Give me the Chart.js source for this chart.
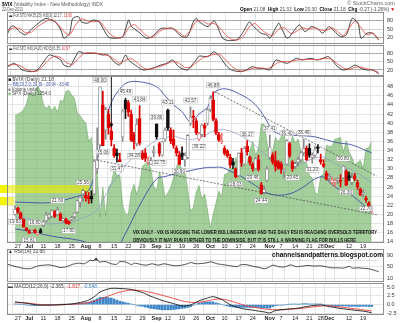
<!DOCTYPE html>
<html>
<head>
<meta charset="utf-8">
<title>$VIX daily</title>
<script src="https://cdn.jsdelivr.net/npm/chart.js@4.4.1/dist/chart.umd.min.js"></script>
<style>
  html, body { margin: 0; padding: 0; background: #fff; }
  #wrap { position: relative; width: 400px; height: 323px; overflow: hidden; background: #fff; }
  #wrap canvas { position: absolute; left: 0; }
</style>
</head>
<body>
<div id="wrap">
  <canvas id="sto1" width="400" height="44" style="top:0px"></canvas>
  <canvas id="sto2" width="400" height="32" style="top:44px"></canvas>
  <canvas id="main" width="400" height="173" style="top:76px"></canvas>
  <canvas id="rsi" width="400" height="33" style="top:249px"></canvas>
  <canvas id="macd" width="400" height="41" style="top:282px"></canvas>
</div>
<script>
const FONT = '"Liberation Sans", Arial, sans-serif';
Chart.defaults.font.family = FONT;

// trading days: index 0 = 24 Jun 2011 ... index 126 = 22 Dec 2011
const tickIdx  = [1, 5, 10, 15, 20, 25, 30, 35, 40, 45, 50, 54, 59, 64, 69, 74, 79, 84, 90, 94, 99, 104, 108, 111, 118, 123];
const tickText = ['27', 'Jul', '11', '18', '25', 'Aug', '8', '15', '22', '29', 'Sep', '12', '19', '26', 'Oct', '10', '17', '24', 'Nov', '7', '14', '21', '28', 'Dec', '12', '19'];
const months = ['Jul', 'Aug', 'Sep', 'Oct', 'Nov', 'Dec'];

const vixOpen = [
  20.00, 21.30, 20.30, 18.90, 17.00, 16.40, 16.20, 16.50, 15.60, 16.60,
  17.60, 18.60, 19.40, 19.60, 20.60, 20.00, 20.10, 18.60, 18.90, 18.40,
  18.90, 19.50, 20.50, 22.60, 24.50, 24.20, 23.90, 24.00, 24.50, 30.00,
  35.20, 44.00, 38.50, 42.00, 38.20, 34.50, 33.50, 32.00, 37.00, 45.00,
  44.50, 42.00, 37.50, 35.50, 41.00, 33.50, 33.50, 31.50, 31.00, 33.50,
  39.80, 35.50, 33.00, 36.50, 42.90, 38.50, 36.50, 34.50, 33.00, 33.50,
  32.00, 32.50, 40.00, 41.50, 40.50, 36.50, 37.50, 39.50, 40.00, 43.00,
  45.00, 40.50, 37.50, 36.00, 34.50, 33.80, 32.50, 31.50, 30.00, 28.50,
  33.50, 31.00, 35.00, 32.50, 31.00, 30.00, 32.00, 26.50, 24.80, 27.50,
  32.50, 33.00, 31.80, 31.50, 31.00, 29.50, 31.00, 35.50, 31.50, 30.50,
  31.50, 32.00, 33.50, 34.50, 34.50, 32.50, 33.00, 34.80, 32.00, 31.00,
  29.00, 28.00, 27.00, 27.00, 27.50, 27.50, 28.00, 29.50, 28.50, 27.00,
  28.50, 27.00, 25.50, 24.50, 23.50, 22.50, 21.08];
const vixHigh = [
  21.90, 21.60, 20.50, 19.00, 17.10, 16.60, 16.60, 16.80, 16.00, 16.90,
  18.60, 20.50, 20.20, 21.00, 20.90, 21.60, 20.30, 19.20, 19.20, 18.60,
  19.60, 20.30, 23.10, 24.00, 25.56, 25.00, 24.80, 25.20, 32.00, 39.00,
  48.00, 47.00, 43.50, 43.00, 40.20, 35.30, 34.30, 33.40, 43.00, 45.48,
  45.00, 42.80, 38.00, 41.00, 43.84, 34.00, 34.40, 32.60, 32.50, 35.00,
  39.86, 35.80, 36.00, 39.00, 43.11, 39.00, 38.50, 35.00, 33.80, 34.80,
  33.50, 37.50, 43.57, 42.80, 41.00, 38.00, 39.80, 40.00, 43.20, 46.00,
  46.88, 41.00, 38.00, 37.80, 35.00, 34.20, 33.20, 32.30, 30.20, 33.50,
  34.50, 34.80, 36.17, 32.80, 31.30, 32.50, 33.00, 27.00, 26.20, 30.50,
  37.41, 33.50, 33.80, 31.80, 31.50, 30.00, 36.40, 35.80, 31.80, 31.50,
  32.50, 33.80, 36.46, 35.00, 35.50, 33.50, 35.00, 35.30, 33.20, 32.00,
  29.50, 29.00, 28.20, 27.80, 28.00, 28.70, 30.80, 29.80, 29.30, 29.00,
  29.00, 27.50, 25.80, 25.40, 24.00, 22.80, 21.33];
const vixLow = [
  19.83, 20.20, 18.80, 17.20, 16.40, 15.81, 15.90, 15.80, 15.50, 15.90,
  17.30, 18.30, 18.90, 19.20, 19.30, 19.80, 18.60, 18.30, 17.90, 17.80,
  18.50, 19.00, 20.30, 21.60, 22.90, 22.90, 22.40, 22.50, 24.20, 29.00,
  34.80, 35.06, 36.50, 37.60, 35.00, 32.50, 31.47, 31.55, 36.00, 41.00,
  41.50, 36.00, 34.28, 35.00, 35.20, 32.00, 31.60, 30.89, 30.90, 32.60,
  36.50, 32.75, 32.80, 36.00, 38.40, 35.50, 34.50, 32.80, 30.90, 32.00,
  30.50, 32.20, 39.50, 39.00, 37.50, 36.22, 37.00, 37.00, 39.50, 42.50,
  40.50, 37.50, 36.00, 35.50, 33.00, 32.50, 30.30, 30.00, 28.03, 28.30,
  30.50, 30.80, 33.00, 30.80, 29.46, 29.80, 29.50, 24.44, 24.50, 27.20,
  32.00, 31.00, 29.50, 29.90, 29.00, 28.00, 30.80, 32.50, 29.45, 30.00,
  30.50, 31.50, 32.80, 31.80, 32.50, 31.20, 32.50, 33.50, 31.00, 30.30,
  27.50, 27.30, 26.50, 26.00, 26.70, 26.00, 27.80, 26.30, 27.40, 26.50,
  27.40, 25.50, 24.10, 23.80, 22.70, 21.30, 20.30];
const vixClose = [
  21.10, 20.56, 18.86, 17.27, 16.52, 15.87, 16.34, 16.06, 15.95, 15.95,
  18.39, 19.87, 19.91, 20.80, 19.53, 20.95, 18.65, 19.07, 18.10, 17.95,
  19.33, 20.23, 22.98, 23.74, 25.25, 23.66, 23.38, 23.38, 31.66, 32.00,
  48.00, 35.06, 42.99, 39.00, 36.36, 32.85, 32.89, 31.58, 42.67, 43.05,
  42.44, 36.27, 35.90, 39.76, 35.59, 32.28, 32.27, 31.62, 31.82, 33.92,
  37.00, 33.38, 35.91, 38.52, 38.90, 36.11, 35.15, 33.53, 30.98, 32.73,
  32.91, 37.32, 41.35, 41.25, 37.90, 37.71, 39.61, 38.84, 42.96, 45.45,
  40.82, 37.81, 36.27, 36.20, 33.39, 32.86, 30.81, 30.82, 28.24, 33.39,
  31.26, 34.51, 33.72, 31.32, 29.96, 32.22, 29.86, 24.53, 25.46, 29.96,
  34.77, 31.50, 30.50, 30.16, 29.85, 29.89, 36.16, 32.81, 30.04, 31.13,
  32.08, 33.51, 34.51, 32.00, 32.91, 33.00, 34.15, 34.47, 31.51, 30.52,
  27.80, 28.37, 27.52, 27.41, 27.84, 27.22, 30.59, 26.38, 27.90, 28.00,
  27.70, 26.00, 24.29, 24.71, 23.22, 21.45, 21.18];

// S&P 500 closes, drawn as the shaded overlay behind the candles
const spxClose = [
  1300, 1303, 1306, 1310, 1321, 1340, 1337, 1339, 1353, 1344,
  1320, 1313, 1318, 1309, 1317, 1306, 1327, 1326, 1344, 1345,
  1337, 1331, 1305, 1300, 1292, 1287, 1254, 1261, 1200, 1199,
  1119, 1172, 1121, 1172, 1179, 1204, 1193, 1193, 1140, 1124,
  1123, 1162, 1177, 1159, 1177, 1210, 1213, 1219, 1204, 1174,
  1166, 1198, 1185, 1154, 1162, 1172, 1189, 1209, 1216, 1204,
  1202, 1167, 1129, 1136, 1163, 1175, 1151, 1160, 1131, 1099,
  1124, 1144, 1165, 1155, 1195, 1196, 1208, 1204, 1225, 1200,
  1225, 1210, 1215, 1238, 1254, 1229, 1242, 1285, 1285, 1253,
  1219, 1237, 1261, 1253, 1262, 1276, 1229, 1240, 1264, 1251,
  1258, 1237, 1216, 1216, 1193, 1188, 1162, 1159, 1192, 1196,
  1247, 1245, 1245, 1258, 1259, 1261, 1234, 1255, 1236, 1225,
  1212, 1216, 1220, 1206, 1241, 1243, 1254];

// Bollinger bands (20, 2.0)
const bbIdx   = [0, 5, 10, 15, 20, 25, 27, 29, 31, 34, 37, 40, 45, 50, 53, 56, 59, 62, 65, 68, 70, 73, 76, 79, 82, 85, 88, 91, 94, 97, 100, 103, 106, 109, 112, 115, 118, 121, 124, 126];
const bbUpper = [22.7, 22.6, 22.5, 22.8, 23.6, 24.7, 26.5, 31.5, 38.5, 44.5, 47.5, 49.0, 49.0, 48.0, 46.0, 44.0, 42.5, 40.3, 42.0, 43.5, 46.5, 47.5, 47.3, 46.5, 45.5, 44.0, 41.5, 38.5, 37.5, 37.4, 37.3, 37.2, 37.0, 36.5, 36.0, 35.6, 35.4, 34.8, 34.0, 33.49];
const bbMid   = [19.5, 19.0, 18.0, 18.0, 18.3, 19.5, 20.0, 21.0, 23.0, 26.5, 29.0, 31.5, 34.0, 36.3, 36.8, 37.2, 36.6, 36.4, 36.8, 37.6, 38.3, 38.6, 38.3, 37.5, 36.5, 35.0, 33.3, 32.2, 31.3, 30.8, 31.0, 31.6, 32.4, 32.5, 31.5, 30.5, 30.0, 29.0, 27.8, 26.94];
const bbLower = [16.8, 16.3, 15.6, 15.0, 14.6, 13.9, 13.0, 11.5, 9.0, 7.5, 13.2, 17.0, 23.1, 27.8, 28.3, 28.8, 29.2, 29.6, 30.0, 30.3, 30.3, 30.3, 29.5, 28.7, 27.5, 26.3, 25.0, 24.3, 24.2, 24.5, 25.3, 26.5, 27.8, 28.2, 26.5, 25.3, 24.6, 23.2, 21.6, 20.36];

// Full stochastics, [day, value]
const sto1K = [[0,36],[1,59],[2,61],[4,41],[6,30],[8,50],[11,76],[13,88],[16,76],[18,47],[19,18],[21,36],[22,88],[24,94],[25,76],[27,71],[29,82],[31,76],[34,24],[36,18],[39,24],[41,82],[42,59],[45,36],[47,18],[49,24],[52,53],[54,53],[56,53],[59,24],[61,24],[63,76],[64,88],[65,76],[68,59],[70,80],[71,65],[73,18],[75,10],[78,14],[80,41],[82,76],[83,65],[86,36],[88,30],[89,18],[92,71],[93,53],[95,18],[99,65],[101,41],[103,59],[105,53],[107,36],[109,59],[110,53],[113,24],[115,30],[117,88],[119,71],[120,18],[122,36],[124,36],[126,12.17]];
const sto1D = [[0,45],[2,55],[4,52],[6,38],[8,40],[10,58],[13,78],[15,84],[17,68],[19,42],[21,30],[23,65],[25,86],[27,80],[29,76],[31,78],[33,55],[35,30],[37,20],[39,22],[41,55],[43,66],[45,48],[47,28],[49,20],[51,38],[53,50],[56,53],[58,40],[60,26],[62,45],[64,78],[66,80],[68,68],[70,70],[72,55],[74,30],[76,14],[78,12],[80,25],[82,58],[84,70],[86,50],[88,35],[90,28],[92,50],[94,55],[96,35],[98,42],[100,55],[102,50],[104,55],[106,48],[108,45],[110,55],[112,42],[114,28],[116,55],[118,78],[120,55],[122,30],[124,36],[126,13.06]];
const sto2K = [[0,32],[2,44],[3,38],[5,20],[8,14],[10,20],[13,62],[14,74],[16,68],[18,56],[19,38],[21,32],[23,68],[24,86],[26,80],[28,80],[30,80],[32,74],[34,74],[36,50],[38,38],[40,74],[41,56],[44,32],[46,20],[49,26],[52,38],[54,44],[56,56],[58,32],[61,20],[63,44],[64,56],[65,70],[68,68],[70,86],[72,68],[74,38],[76,20],[79,14],[81,20],[83,32],[85,26],[87,26],[89,20],[91,56],[93,50],[95,44],[98,62],[100,56],[103,62],[105,56],[107,62],[109,68],[112,32],[114,20],[116,26],[118,38],[120,26],[122,20],[124,20],[126,6.35]];
const sto2D = [[0,36],[2,40],[4,36],[6,24],[8,16],[10,16],[12,35],[14,58],[16,70],[18,64],[20,46],[22,40],[24,62],[26,80],[28,82],[30,80],[32,77],[34,72],[36,60],[38,44],[40,55],[42,60],[44,45],[46,28],[48,22],[50,28],[52,34],[54,42],[56,50],[58,45],[60,30],[62,30],[64,46],[66,62],[68,70],[70,76],[72,76],[74,56],[76,34],[78,20],[80,16],[82,22],[84,28],[86,27],[88,24],[90,34],[92,48],[94,50],[96,50],[98,55],[100,58],[102,58],[104,58],[106,58],[108,62],[110,58],[112,42],[114,28],[116,22],[118,30],[120,30],[122,24],[124,20],[126,10.97]];

// RSI(14), [day, value]
const rsi14 = [[0,58],[2,52],[4,47],[6,43],[8,44],[10,52],[12,55],[14,56],[16,52],[18,47],[20,50],[22,58],[24,62],[26,60],[28,72],[29,70],[30,79],[31,66],[33,68],[35,60],[37,58],[38,67],[40,66],[42,57],[43,62],[45,58],[47,55],[49,60],[51,55],[53,60],[55,56],[57,53],[59,55],[61,60],[62,64],[64,60],[66,61],[68,64],[69,67],[71,60],[73,57],[75,54],[78,50],[79,56],[81,57],[83,52],[85,48],[87,43],[88,45],[90,55],[92,50],[94,49],[96,56],[98,50],[100,52],[102,54],[104,52],[106,53],[108,50],[110,46],[112,46],[114,45],[116,51],[117,45],[119,46],[121,44],[123,42],[125,36],[126,32.66]];

// MACD(12,26,9)
const macdLine   = [[0,0.8],[4,0.4],[8,-0.1],[14,-0.1],[20,0.2],[24,0.8],[26,1.3],[28,2.3],[30,3.6],[32,4.3],[34,4.7],[36,4.7],[38,4.6],[40,4.5],[42,4.2],[45,3.5],[48,2.4],[52,1.2],[56,0.3],[59,-0.4],[62,-0.1],[65,1.1],[68,1.9],[70,2.3],[73,1.5],[76,0.0],[80,-1.1],[84,-1.6],[88,-2.1],[90,-2.4],[92,-1.7],[96,-1.3],[100,-1.0],[104,-0.4],[108,-0.1],[110,-0.4],[115,-1.1],[120,-1.6],[124,-2.0],[126,-2.365]];
const macdSignal = [[0,0.6],[4,0.5],[8,0.1],[14,-0.1],[20,0.1],[24,0.3],[26,0.6],[28,1.0],[30,1.5],[32,2.2],[34,2.8],[36,3.4],[38,3.8],[40,4.1],[42,4.2],[45,4.0],[48,3.5],[52,2.7],[56,1.8],[60,0.9],[64,0.6],[68,1.1],[71,1.6],[74,1.5],[78,0.6],[82,-0.4],[86,-1.0],[90,-1.4],[94,-1.5],[98,-1.3],[102,-1.0],[106,-0.6],[110,-0.3],[114,-0.6],[118,-1.0],[122,-1.4],[126,-1.817]];
const macdHist = [
  0.2, 0.15, 0.1, 0.0, -0.1, -0.2, -0.25, -0.3, -0.25, -0.2,
  -0.15, -0.1, -0.05, 0.0, 0.0, 0.0, 0.05, 0.05, 0.05, 0.05,
  0.1, 0.2, 0.3, 0.4, 0.5, 0.6, 0.7, 1.0, 1.3, 1.7,
  2.1, 2.1, 2.1, 2.0, 1.9, 1.6, 1.3, 1.0, 0.8, 0.6,
  0.4, 0.2, 0.0, -0.2, -0.4, -0.5, -0.7, -0.9, -1.1, -1.2,
  -1.3, -1.4, -1.5, -1.5, -1.5, -1.5, -1.4, -1.3, -1.2, -1.1,
  -1.0, -0.8, -0.6, -0.2, 0.2, 0.4, 0.6, 0.7, 0.8, 0.8,
  0.8, 0.5, 0.3, 0.0, -0.2, -0.4, -0.6, -0.7, -0.8, -0.8,
  -0.8, -0.8, -0.8, -0.8, -0.8, -0.8, -0.8, -0.9, -0.9, -1.0,
  -1.0, -0.6, -0.3, -0.2, -0.1, -0.1, 0.0, 0.1, 0.2, 0.2,
  0.1, 0.2, 0.3, 0.3, 0.2, 0.2, 0.2, 0.2, 0.2, 0.0,
  -0.1, -0.2, -0.3, -0.4, -0.4, -0.4, -0.4, -0.4, -0.5, -0.5,
  -0.5, -0.5, -0.5, -0.5, -0.5, -0.55, -0.548];

// swing highs / lows that get a value tag
const hiTags = [7, 15, 24, 30, 39, 44, 50, 54, 62, 70, 82, 90, 96, 102, 116];
const loTags = [0, 5, 19, 31, 36, 42, 51, 58, 65, 78, 84, 87, 98, 105, 117, 124];

// hand-drawn trend lines [day0, value0, day1, value1], arrow [day, from, to]
const trendLines = [[70.6, 46.9, 127.8, 28.4], [28.9, 31.9, 127.8, 19.9]];
const arrowMark = [34, 50.3, 39.2];
// highlighted price zones [low, high, last day]
const zones = [[24.69, 26.44, 26.2], [22.0, 23.8, -0.3]];

const noteLines = [
  'VIX DAILY - VIX IS HUGGING THE LOWER BOLLINGER BAND AND THE DAILY RSI IS REACHING OVERSOLD TERRITORY',
  'OBVIOUSLY IT MAY RUN FURTHER TO THE DOWNSIDE, BUT IT IS STILL A WARNING FLAG FOR BULLS HERE'
];

// ---------- helpers ----------
const fnt = (w, s) => (w || 'normal') + ' ' + s + 'px ' + FONT;
const pts = pairs => pairs.map(p => ({x: p[0], y: p[1]}));
const daily = arr => arr.map((v, i) => ({x: i, y: v}));

function textRuns(ctx, parts, x, y, width, size, scale) {
  ctx.save();
  let total = 0;
  const w = parts.map(p => { ctx.font = fnt(p[2], size); const m = ctx.measureText(p[0]).width; total += m; return m; });
  const k = scale || (width ? width / total : 1);
  ctx.translate(x, y);
  ctx.scale(k, 1);
  ctx.textBaseline = 'middle';
  ctx.textAlign = 'left';
  let cx = 0;
  parts.forEach((p, i) => { ctx.font = fnt(p[2], size); ctx.fillStyle = p[1]; ctx.fillText(p[0], cx, 0); cx += w[i]; });
  ctx.restore();
  return k;
}

function xAxis(labels, h) {
  return {
    type: 'linear', min: -0.3, max: 127.8,
    afterBuildTicks: s => { s.ticks = tickIdx.map(v => ({value: v})); },
    afterFit: s => { s.height = h; s.paddingLeft = 0; s.paddingRight = 0; },
    border: {display: false},
    grid: {color: '#e4e4e4', lineWidth: 1, drawTicks: false},
    ticks: {
      display: labels, autoSkip: false, maxRotation: 0, minRotation: 0, padding: 0, color: '#222',
      font: c => ({size: 5.5, weight: months.includes(tickText[tickIdx.indexOf(c.tick ? c.tick.value : -1)]) ? 'bold' : 'normal'}),
      callback: v => tickText[tickIdx.indexOf(v)] || ''
    }
  };
}

function yAxis(min, max, ticks, opt) {
  opt = opt || {};
  return {
    type: 'linear', position: 'right', min, max,
    afterBuildTicks: s => { s.ticks = ticks.map(v => ({value: v})); },
    afterFit: s => { s.width = 16; s.paddingTop = 0; s.paddingBottom = 0; },
    border: {display: false},
    grid: {color: opt.grid || '#e4e4e4', lineWidth: 1, drawTicks: false},
    ticks: {padding: 3, color: '#333', font: {size: 5.5}, callback: opt.fmt || (v => v)}
  };
}

const frame = {
  id: 'frame',
  afterDraw(c) {
    const a = c.chartArea, ctx = c.ctx;
    ctx.save();
    ctx.strokeStyle = '#8e8e8e';
    ctx.lineWidth = 1;
    ctx.strokeRect(a.left + 0.5, a.top + 0.5, a.right - a.left - 1, a.bottom - a.top - 1);
    ctx.restore();
  }
};

const base = {
  responsive: false, animation: false, devicePixelRatio: 1, events: [],
  plugins: {legend: {display: false}, tooltip: {enabled: false}},
  elements: {point: {radius: 0}}
};
const opts = (pad, scales) => Object.assign({}, base, {layout: {padding: pad}, scales});
const lineSet = (data, color, width) => ({type: 'line', data, borderColor: color, borderWidth: width || 0.8, pointRadius: 0, fill: false, tension: 0.25});

// ---------- stochastics ----------
const stoGrid = c => c.tick.value === 50 ? '#cfcfcf' : '#a9a9a9';

new Chart(document.getElementById('sto1'), {
  type: 'line',
  data: {datasets: [lineSet(pts(sto1D), '#e8413c'), lineSet(pts(sto1K), '#1a1a1a')]},
  options: opts({left: 7, right: 0, top: 12, bottom: 0},
    {x: xAxis(false, 0), y: yAxis(-2.1, 110.6, [20, 50, 80], {grid: stoGrid})}),
  plugins: [frame, {
    id: 'head',
    afterDraw(c) {
      const ctx = c.ctx;
      textRuns(ctx, [['$VIX', '#000', 'bold'], [' (Volatility Index - New Methodology) INDX', '#555']], 2, 4.5, 101, 5.5);
      textRuns(ctx, [['22-Dec-2011', '#555']], 2, 10, 21, 5);
      textRuns(ctx, [['\u00a9 StockCharts.com', '#666']], 347, 3.5, 48, 5);
      textRuns(ctx, [['Open', '#000', 'bold'], [' 21.08  ', '#444'], ['High', '#000', 'bold'], [' 21.33  ', '#444'],
        ['Low', '#000', 'bold'], [' 20.30  ', '#444'], ['Close', '#000', 'bold'], [' 21.18  ', '#444'],
        ['Chg', '#000', 'bold'], [' -0.27 (-1.26%) ', '#444'], ['\u25bc', '#d00000']], 240, 10, 155, 5);
      textRuns(ctx, [['\u25ac Full STO %K(5,20) %D(3) 12.17, ', '#444'], ['13.06', '#e03030']], 9, 15.5, 63, 5);
    }
  }]
});

new Chart(document.getElementById('sto2'), {
  type: 'line',
  data: {datasets: [lineSet(pts(sto2D), '#e8413c'), lineSet(pts(sto2K), '#1a1a1a')]},
  options: opts({left: 7, right: 0, top: 1, bottom: 0},
    {x: xAxis(false, 0), y: yAxis(-1.56, 109.8, [20, 50, 80], {grid: stoGrid})}),
  plugins: [frame, {
    id: 'head2',
    afterDraw(c) {
      textRuns(c.ctx, [['\u25ac Full STO %K(14,20) %D(3) 6.35, ', '#444'], ['10.97', '#e03030']], 9, 4.5, 61, 5);
    }
  }]
});

// ---------- price panel ----------
const bodyFill = [], bodyEdge = [], wickCol = [];
vixClose.forEach((c, i) => {
  const prev = i ? vixClose[i - 1] : vixOpen[0];
  const down = c < prev;
  const hollow = c >= vixOpen[i];
  const solid = down ? '#e00000' : '#111111';
  const soft = down ? '#ec7070' : '#8a8a8a';
  bodyFill.push(hollow ? '#ffffff' : solid);
  bodyEdge.push(hollow ? soft : solid);
  wickCol.push(hollow ? soft : solid);
});
const bodies = vixOpen.map((o, i) => {
  const lo = Math.min(o, vixClose[i]), hi = Math.max(o, vixClose[i]);
  return {x: i, y: [lo, hi - lo < 0.08 ? lo + 0.08 : hi]};
});
const wicks = vixLow.map((l, i) => ({x: i, y: [l, vixHigh[i]]}));
const band = vals => bbIdx.map((d, k) => ({x: d, y: vals[k]}));

const priceDecor = {
  id: 'priceDecor',
  afterDatasetDraw(c, args) {
    if (args.index !== 0) return;
    const ctx = c.ctx, xs = c.scales.x, ys = c.scales.y, a = c.chartArea;
    ctx.save();
    zones.forEach(z => {
      const top = ys.getPixelForValue(z[1]), bot = ys.getPixelForValue(z[0]);
      ctx.fillStyle = '#f4f400';
      ctx.fillRect(0, top, a.left, bot - top);
      const right = xs.getPixelForValue(z[2]);
      if (right > a.left) {
        ctx.fillStyle = 'rgba(238,238,0,0.6)';
        ctx.fillRect(a.left, top, right - a.left, bot - top);
      }
    });
    ctx.restore();
  },
  afterDatasetsDraw(c) {
    const ctx = c.ctx, xs = c.scales.x, ys = c.scales.y, a = c.chartArea;
    ctx.save();
    ctx.beginPath();
    ctx.rect(a.left, a.top, a.right - a.left, a.bottom - a.top);
    ctx.clip();
    // trend lines
    ctx.strokeStyle = '#555';
    ctx.lineWidth = 0.8;
    ctx.setLineDash([2, 1.5]);
    trendLines.forEach(t => {
      ctx.beginPath();
      ctx.moveTo(xs.getPixelForValue(t[0]), ys.getPixelForValue(t[1]));
      ctx.lineTo(xs.getPixelForValue(t[2]), ys.getPixelForValue(t[3]));
      ctx.stroke();
    });
    ctx.setLineDash([]);
    // arrow
    const ax = xs.getPixelForValue(arrowMark[0]);
    const ay0 = ys.getPixelForValue(arrowMark[1]), ay1 = ys.getPixelForValue(arrowMark[2]);
    ctx.strokeStyle = '#111';
    ctx.lineWidth = 1;
    ctx.beginPath(); ctx.moveTo(ax, ay0); ctx.lineTo(ax, ay1); ctx.stroke();
    ctx.fillStyle = '#111';
    ctx.beginPath(); ctx.moveTo(ax - 2, ay1 - 3); ctx.lineTo(ax + 2, ay1 - 3); ctx.lineTo(ax, ay1 + 1); ctx.closePath(); ctx.fill();
    // value tags
    const tag = (i, v, dy) => {
      const t = v.toFixed(2);
      ctx.font = fnt('normal', 4.6);
      const w = ctx.measureText(t).width + 2, h = 5;
      const px = xs.getPixelForValue(i), py = ys.getPixelForValue(v) + dy;
      ctx.fillStyle = '#fff';
      ctx.fillRect(px - w / 2, py - h / 2, w, h);
      ctx.strokeStyle = '#aaaaaa';
      ctx.lineWidth = 0.5;
      ctx.strokeRect(px - w / 2, py - h / 2, w, h);
      ctx.fillStyle = '#444';
      ctx.textAlign = 'center';
      ctx.textBaseline = 'middle';
      ctx.fillText(t, px, py + 0.3);
    };
    hiTags.forEach(i => tag(i, vixHigh[i], -6.5));
    loTags.forEach(i => tag(i, vixLow[i], 6.5));
    ctx.restore();
    // note
    const k = textRuns(ctx, [[noteLines[0], '#111', 'bold']], 133, 156.5, 244, 5.5);
    textRuns(ctx, [[noteLines[1], '#111', 'bold']], 133, 164, null, 5.5, k);
    // legend
    textRuns(ctx, [['\u25a0 ', '#111'], ['$VIX (Daily) 21.18', '#444']], 8, 4, 46, 5);
    textRuns(ctx, [['\u2014 BB(20,2.0) 20.36 - 26.94 - 33.49', '#3c4fa6']], 8, 9, 61, 5);
    textRuns(ctx, [['\u25a0 ', '#888'], ['Volume undef', '#444']], 8, 13.3, 30, 5);
    textRuns(ctx, [['\u25a0 ', '#7fbf70'], ['SPX (Daily) 1254.0', '#444']], 8, 17.4, 43, 5);
  }
};

const yTicksMain = [14, 16, 18, 20, 22, 24, 26, 28, 30, 32, 34, 36, 38, 40, 42, 44, 46, 48];

new Chart(document.getElementById('main'), {
  type: 'line',
  data: {datasets: [
    {type: 'line', data: daily(spxClose), yAxisID: 'ys', fill: 'start', backgroundColor: 'rgba(108,176,94,0.62)',
     borderColor: 'rgba(90,155,80,0.75)', borderWidth: 0.6, pointRadius: 0, order: 10},
    Object.assign(lineSet(band(bbUpper), '#3c4fa6', 0.9), {tension: 0.35, order: 5}),
    Object.assign(lineSet(band(bbMid), '#8c98c9', 0.7), {tension: 0.35, order: 5}),
    Object.assign(lineSet(band(bbLower), '#3c4fa6', 0.9), {tension: 0.35, order: 5}),
    {type: 'bar', data: wicks, backgroundColor: wickCol, barThickness: 1, grouped: false, order: 3},
    {type: 'bar', data: bodies, backgroundColor: bodyFill, borderColor: bodyEdge, borderWidth: 0.8,
     borderSkipped: false, barThickness: 3, grouped: false, order: 2}
  ]},
  options: opts({left: 7, right: 0, top: 0, bottom: 0}, {
    x: xAxis(true, 6),
    y: yAxis(13.72, 50.35, yTicksMain),
    ys: {type: 'linear', axis: 'y', display: false, min: 1072, max: 1371}
  }),
  plugins: [frame, priceDecor]
});

// ---------- RSI ----------
new Chart(document.getElementById('rsi'), {
  type: 'line',
  data: {datasets: [Object.assign(lineSet(pts(rsi14), '#222', 0.8),
    {fill: {target: {value: 70}, above: '#444', below: 'rgba(0,0,0,0)'}})]},
  options: opts({left: 7, right: 0, top: 0, bottom: 0}, {
    x: xAxis(false, 0),
    y: yAxis(-2.7, 110.6, [10, 30, 50, 70, 90], {grid: c => (c.tick.value === 30 || c.tick.value === 70) ? '#a0a0a0' : '#e4e4e4'})
  }),
  plugins: [frame, {
    id: 'rsiText',
    afterDraw(c) {
      textRuns(c.ctx, [['\u25b2 ', '#333'], ['RSI(14) 32.66', '#444']], 8, 3, 37, 5);
      textRuns(c.ctx, [['channelsandpatterns.blogspot.com', '#111', 'bold']], 272, 5.5, 111, 7.5);
    }
  }]
});

// ---------- MACD ----------
new Chart(document.getElementById('macd'), {
  type: 'line',
  data: {datasets: [
    {type: 'bar', data: daily(macdHist), backgroundColor: '#3f86c8', barThickness: 2, grouped: false, order: 3},
    Object.assign(lineSet(pts(macdSignal), '#e8413c', 0.9), {order: 2}),
    Object.assign(lineSet(pts(macdLine), '#1a1a1a', 0.9), {order: 1})
  ]},
  options: opts({left: 7, right: 0, top: 1, bottom: 0}, {
    x: xAxis(true, 8),
    y: yAxis(-2.99, 6.24, [-2.5, 0, 2.5, 5], {fmt: v => v.toFixed(1)})
  }),
  plugins: [frame, {
    id: 'macdText',
    afterDraw(c) {
      textRuns(c.ctx, [['\u25ac MACD(12,26,9) -2.365, ', '#444'], ['-1.817, ', '#e03030'], ['-0.548', '#3f86c8']], 8, 5, 89, 5);
    }
  }]
});
</script>
</body>
</html>
